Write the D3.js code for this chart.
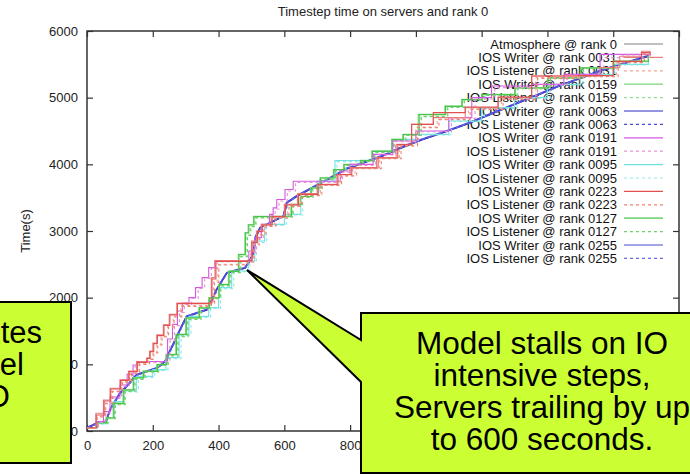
<!DOCTYPE html>
<html><head><meta charset="utf-8">
<script src="https://cdn.jsdelivr.net/npm/d3@7"></script>
<style>
body{margin:0;background:#fff}
svg{display:block}
text{font-family:"Liberation Sans",Arial,Helvetica,sans-serif}
</style>
</head><body>
<svg id="c" width="690" height="475"></svg>
<script>
// ---------- data ----------
const chartTitle = "Timestep time on servers and rank 0";
const yTitle = "Time(s)";
const xTicks = [0,200,400,600,800,1000,1200,1400,1600,1800];
const xTickLabels = ["0","200","400","600","800","","","","",""]; // labels beyond 800 sit under the callout
const yTicks = [0,1000,2000,3000,4000,5000,6000];

const seriesNames = [
  "Atmosphere @ rank 0",
  "IOS Writer @ rank 0031","IOS Listener @ rank 0031",
  "IOS Writer @ rank 0159","IOS Listener @ rank 0159",
  "IOS Writer @ rank 0063","IOS Listener @ rank 0063",
  "IOS Writer @ rank 0191","IOS Listener @ rank 0191",
  "IOS Writer @ rank 0095","IOS Listener @ rank 0095",
  "IOS Writer @ rank 0223","IOS Listener @ rank 0223",
  "IOS Writer @ rank 0127","IOS Listener @ rank 0127",
  "IOS Writer @ rank 0255","IOS Listener @ rank 0255"
];

// [timestep, seconds]
const atm0 = [[0,45],[29,110],[58,135],[70,310],[100,560],[130,715],[151,838],[212,938],[237,1038],[273,1412],[303,1712],[364,1812],[394,2112],[425,2365],[480,2440],[506,2665],[511,2890],[526,3040],[597,3215],[607,3415],[638,3515],[700,3685],[759,3842],[784,3918],[900,4125],[1018,4365],[1159,4608],[1300,4895],[1433,5165],[1560,5395],[1707,5620]];

const w0031 = [[0,50],[27,266],[50,466],[70,642],[100,767],[126,900],[151,1042],[181,1093],[190,1200],[200,1320],[212,1443],[232,1593],[250,1750],[273,1919],[368,1919],[378,2300],[389,2555],[486,2555],[500,2850],[515,3000],[530,3100],[560,3221],[600,3400],[640,3560],[700,3700],[760,3848],[800,3950],[880,4100],[940,4300],[987,4600],[1053,4700],[1150,4850],[1250,5000],[1352,5325],[1494,5325],[1560,5450],[1620,5622],[1686,5697],[1712,5622]];
const l0031 = [[0,50],[30,220],[55,420],[75,600],[105,740],[132,870],[158,1010],[188,1080],[200,1180],[212,1300],[225,1420],[245,1570],[262,1720],[285,1880],[375,1919],[385,2250],[398,2500],[486,2540],[505,2800],[520,2950],[540,3080],[570,3200],[610,3380],[650,3540],[710,3690],[770,3830],[815,3940],[890,4090],[950,4280],[1000,4560],[1065,4680],[1160,4830],[1260,4980],[1365,5300],[1500,5320],[1610,5530],[1690,5660],[1712,5640]];

const w0159 = [[0,50],[30,130],[58,200],[80,420],[110,620],[140,800],[170,900],[212,1000],[240,1150],[270,1450],[300,1700],[340,1850],[370,2000],[400,2200],[430,2400],[460,2650],[480,2976],[490,3096],[506,3221],[597,3221],[620,3400],[648,3522],[680,3650],[708,3798],[749,3923],[780,4000],[830,4060],[866,4198],[926,4374],[960,4450],[1007,4750],[1088,4875],[1139,4975],[1200,5050],[1300,5150],[1400,5300],[1500,5450],[1600,5550],[1707,5626]];
const l0159 = [[0,48],[33,120],[62,190],[84,400],[114,600],[144,780],[175,890],[216,990],[245,1130],[275,1420],[305,1680],[345,1840],[375,1990],[405,2180],[435,2380],[466,2620],[486,2940],[496,3070],[512,3200],[600,3215],[625,3380],[652,3510],[685,3640],[713,3780],[754,3910],[786,3990],[838,4050],[872,4185],[932,4360],[968,4440],[1015,4720],[1095,4860],[1146,4965],[1208,5040],[1308,5140],[1408,5290],[1508,5440],[1608,5545],[1707,5620]];

const w0063 = [[0,50],[15,80],[29,115],[45,125],[58,140],[64,230],[70,315],[80,400],[90,480],[100,567],[115,640],[130,720],[140,790],[151,842],[180,890],[212,942],[225,990],[237,1042],[250,1180],[262,1300],[273,1418],[285,1540],[295,1640],[303,1718],[335,1770],[364,1818],[380,1970],[394,2119],[410,2250],[425,2370],[450,2405],[480,2445],[495,2550],[506,2671],[511,2896],[526,3047],[560,3130],[597,3221],[607,3422],[638,3522],[700,3690],[759,3848],[784,3923],[850,4040],[900,4130],[960,4260],[1018,4370],[1090,4490],[1159,4614],[1230,4760],[1300,4900],[1370,5040],[1433,5170],[1500,5290],[1560,5400],[1630,5510],[1707,5626]];
const l0063 = [[0,48],[30,105],[58,135],[68,290],[78,390],[92,490],[103,570],[118,650],[132,725],[143,795],[153,840],[182,888],[214,940],[228,995],[240,1045],[252,1185],[264,1305],[275,1420],[287,1545],[297,1645],[305,1720],[337,1772],[366,1820],[382,1975],[396,2120],[412,2255],[427,2372],[452,2408],[482,2448],[497,2555],[508,2675],[513,2895],[528,3050],[562,3135],[599,3225],[609,3425],[640,3525],[702,3692],[761,3850],[786,3925],[852,4042],[902,4132],[962,4262],[1020,4372],[1092,4492],[1161,4616],[1232,4762],[1302,4902],[1372,5042],[1435,5172],[1502,5292],[1562,5402],[1632,5512],[1707,5626]];

const w0191 = [[0,50],[30,140],[50,290],[70,510],[100,690],[122,850],[140,990],[151,1042],[232,1042],[245,1380],[260,1600],[275,1800],[290,1919],[310,2000],[330,2150],[350,2300],[370,2450],[389,2555],[486,2555],[492,2700],[510,2900],[530,3100],[555,3250],[566,3347],[577,3472],[602,3622],[627,3747],[760,3747],[770,3900],[800,4000],[870,4150],[930,4350],[1000,4500],[1100,4700],[1170,5000],[1230,5175],[1352,5200],[1450,5350],[1560,5650],[1620,5650],[1707,5626]];
const l0191 = [[0,48],[34,130],[55,270],[75,490],[105,670],[128,830],[146,970],[158,1030],[238,1040],[252,1350],[266,1580],[281,1780],[296,1900],[318,1990],[338,2140],[358,2290],[378,2440],[396,2540],[488,2550],[498,2680],[516,2880],[536,3080],[561,3230],[572,3330],[584,3450],[609,3600],[634,3730],[765,3740],[777,3880],[808,3985],[878,4140],[938,4340],[1008,4490],[1108,4690],[1180,4980],[1240,5150],[1360,5190],[1460,5340],[1570,5600],[1630,5640],[1707,5620]];

const w0095 = [[0,50],[29,110],[60,200],[80,440],[110,600],[150,820],[200,920],[240,1100],[280,1450],[310,1720],[370,1850],[400,2150],[440,2400],[490,2550],[510,2850],[540,3100],[600,3250],[650,3550],[700,3750],[754,4058],[855,4058],[866,4198],[926,4374],[1000,4450],[1100,4650],[1200,4850],[1300,5000],[1400,5200],[1500,5350],[1600,5500],[1707,5626]];
const l0095 = [[0,48],[32,105],[64,190],[85,420],[115,585],[156,805],[206,910],[246,1085],[286,1430],[316,1705],[376,1840],[406,2135],[446,2390],[495,2545],[515,2830],[546,3085],[606,3240],[656,3535],[706,3740],[760,4040],[860,4050],[872,4185],[932,4360],[1008,4440],[1108,4640],[1208,4840],[1308,4990],[1408,5190],[1508,5340],[1608,5490],[1707,5620]];

const w0223 = [[0,50],[28,240],[52,450],[72,630],[102,760],[128,890],[153,1030],[183,1090],[192,1190],[203,1310],[214,1430],[234,1585],[252,1740],[275,1910],[370,1919],[380,2280],[392,2545],[488,2555],[502,2830],[518,2990],[533,3090],[563,3215],[603,3390],[643,3550],[703,3695],[763,3845],[805,3945],[885,4095],[945,4295],[987,4600],[1048,4600],[1053,4775],[1150,4860],[1250,5010],[1352,5325],[1494,5330],[1600,5545],[1686,5676],[1712,5640]];
const l0223 = [[0,48],[31,210],[57,410],[77,590],[108,730],[135,860],[160,1000],[190,1075],[203,1170],[215,1290],[228,1410],[248,1560],[265,1710],[288,1870],[378,1915],[388,2230],[401,2490],[490,2535],[508,2790],[524,2940],[544,3070],[574,3195],[614,3370],[654,3530],[714,3685],[774,3825],[820,3935],[895,4085],[955,4275],[1005,4550],[1070,4670],[1165,4825],[1265,4975],[1370,5290],[1505,5315],[1615,5525],[1695,5650],[1712,5630]];

const w0127 = [[0,50],[31,125],[59,195],[82,410],[112,615],[142,795],[172,895],[214,995],[242,1145],[272,1445],[302,1695],[342,1845],[372,1995],[402,2195],[432,2395],[462,2645],[482,2970],[492,3090],[508,3215],[599,3221],[622,3395],[650,3518],[682,3645],[710,3795],[751,3920],[782,3995],[832,4055],[868,4195],[928,4370],[962,4445],[1010,4745],[1090,4870],[1141,4970],[1202,5045],[1302,5145],[1402,5295],[1502,5445],[1602,5545],[1707,5626]];
const l0127 = [[0,48],[35,118],[64,185],[86,395],[116,595],[146,775],[177,885],[218,985],[247,1125],[277,1415],[307,1675],[347,1835],[377,1985],[407,2175],[437,2375],[468,2615],[488,2935],[498,3065],[514,3195],[602,3212],[627,3375],[654,3505],[687,3635],[715,3775],[756,3905],[788,3985],[840,4045],[874,4180],[934,4355],[970,4435],[1017,4715],[1097,4855],[1148,4960],[1210,5035],[1310,5135],[1410,5285],[1510,5435],[1610,5540],[1707,5620]];

const w0255 = [[0,52],[15,85],[29,118],[45,128],[58,145],[64,240],[70,325],[80,410],[90,490],[100,575],[115,648],[130,728],[140,796],[151,848],[180,895],[212,948],[225,996],[237,1048],[250,1186],[262,1306],[273,1424],[285,1546],[295,1646],[303,1724],[335,1776],[364,1824],[380,1976],[394,2125],[410,2256],[425,2376],[450,2410],[480,2450],[495,2556],[506,2677],[511,2900],[526,3052],[560,3136],[597,3226],[607,3428],[638,3528],[700,3696],[759,3854],[784,3929],[850,4046],[900,4136],[960,4266],[1018,4376],[1090,4496],[1159,4620],[1230,4766],[1300,4906],[1370,5046],[1433,5176],[1500,5296],[1560,5406],[1630,5516],[1707,5632]];
const l0255 = [[0,49],[31,108],[59,138],[69,295],[79,395],[93,495],[104,572],[119,652],[133,728],[144,798],[154,843],[183,890],[215,943],[229,997],[241,1047],[253,1188],[265,1308],[276,1422],[288,1548],[298,1648],[306,1722],[338,1775],[367,1822],[383,1978],[397,2122],[413,2258],[428,2374],[453,2410],[483,2450],[498,2558],[509,2678],[514,2898],[529,3052],[563,3138],[600,3228],[610,3428],[641,3528],[703,3695],[762,3852],[787,3928],[853,4045],[903,4135],[963,4265],[1021,4375],[1093,4495],[1162,4618],[1233,4765],[1303,4905],[1373,5045],[1436,5175],[1503,5295],[1563,5405],[1633,5515],[1707,5628]];

const seriesData = [atm0,w0031,l0031,w0159,l0159,w0063,l0063,w0191,l0191,w0095,l0095,w0223,l0223,w0127,l0127,w0255,l0255];

// ---------- styles ----------
const colors = ["#808080","#e88080","#f0a898","#78d878","#90e090","#2a2ac4","#4848d0","#d458e2","#e892d4","#70e2e2","#90e8e8","#e25050","#ec8474","#48c448","#70d070","#4a4ad8","#6a6ae0"];
const dashed = [false,false,true,false,true,false,true,false,true,false,true,false,true,false,true,false,true];
const stepped = [false,true,true,true,true,false,false,true,true,true,true,true,true,true,true,false,false];

const W = 690, H = 475;
const L = 87, R = 679, T = 31, B = 431;
const svg = d3.select("#c");
svg.append("rect").attr("width",W).attr("height",H).attr("fill","#fff");

const x = d3.scaleLinear().domain([0,1800]).range([L,R]);
const y = d3.scaleLinear().domain([0,6000]).range([B,T]);

// title
svg.append("text").attr("x",383).attr("y",16).attr("text-anchor","middle")
  .attr("font-size",13).attr("fill","#222").text(chartTitle);
// y title
svg.append("text").attr("transform","translate(30,231) rotate(-90)")
  .attr("text-anchor","middle").attr("font-size",13).attr("fill","#222").text(yTitle);

// axes
const tickCol = "#333";
function styleAxis(g){
  g.select(".domain").remove();
  g.selectAll("line").attr("stroke",tickCol).attr("stroke-width",1.2);
  g.selectAll("text").attr("font-size",13).attr("fill","#222")
    .attr("font-family",'"Liberation Sans",Arial,sans-serif');
  g.selectAll("text").filter(function(){ return this.textContent === ""; }).remove();
}
svg.append("g").attr("transform",`translate(0,${B})`)
  .call(d3.axisBottom(x).tickValues(xTicks).tickSize(-6).tickPadding(10)
    .tickFormat((d,i)=>xTickLabels[i])).call(styleAxis);
svg.append("g").attr("transform",`translate(0,${T})`)
  .call(d3.axisTop(x).tickValues(xTicks).tickSize(-6).tickFormat("")).call(styleAxis);
svg.append("g").attr("transform",`translate(${L},0)`)
  .call(d3.axisLeft(y).tickValues(yTicks).tickSize(-6).tickPadding(9).tickFormat(d3.format("d"))).call(styleAxis);
svg.append("g").attr("transform",`translate(${R},0)`)
  .call(d3.axisRight(y).tickValues(yTicks).tickSize(-6).tickFormat("")).call(styleAxis);

// frame
svg.append("rect").attr("x",L).attr("y",T).attr("width",R-L).attr("height",B-T)
  .attr("fill","none").attr("stroke",tickCol).attr("stroke-width",1.5);

// legend (drawn under the lines)
const leg = svg.append("g");
seriesNames.forEach((n,i)=>{
  const yy = 44 + i*13.4;
  leg.append("text").attr("x",617).attr("y",yy).attr("dy","0.36em")
    .attr("text-anchor","end").attr("font-size",13).attr("fill","#111").text(n);
  leg.append("line").attr("x1",624).attr("x2",663).attr("y1",yy).attr("y2",yy)
    .attr("stroke",colors[i]).attr("stroke-width",1.2)
    .attr("stroke-dasharray",dashed[i]?"3,3":null);
});

// series
svg.append("clipPath").attr("id","pc").append("rect")
  .attr("x",L).attr("y",T).attr("width",R-L).attr("height",B-T);
const plot = svg.append("g").attr("clip-path","url(#pc)");
const order = [0,5,6,15,16,9,10,3,4,13,14,7,8,1,2,11,12];
order.forEach(i=>{
  const gen = d3.line().x(d=>x(d[0])).y(d=>y(d[1]))
    .curve(stepped[i]?d3.curveStepAfter:d3.curveLinear);
  plot.append("path").datum(seriesData[i]).attr("d",gen)
    .attr("fill","none").attr("stroke",colors[i])
    .attr("stroke-width",(i===5||i===15)?1.6:1.1)
    .attr("stroke-dasharray",dashed[i]?"3,3":null);
});

// callouts
const fillC = "#ccff33";
const callouts = svg.append("g");
callouts.append("path")
  .attr("d","M-10,302 H71 V463 H-10 Z")
  .attr("fill",fillC).attr("stroke","#000").attr("stroke-width",2);
const leftLines = [["Server writes",42,343],["in parallel",24,375],["to model IO",10,407]];
leftLines.forEach(([t,xx,yy])=>{
  callouts.append("text").attr("x",xx).attr("y",yy).attr("text-anchor","end")
    .attr("font-size",31).attr("fill","#000").text(t);
});
callouts.append("path")
  .attr("d","M361,313 H725 V473 H361 V382 L247,270 L361,340 Z")
  .attr("fill",fillC).attr("stroke","#000").attr("stroke-width",2).attr("stroke-linejoin","miter");
const rightLines = ["Model stalls on IO","intensive steps,","Servers trailing by up","to 600 seconds."];
rightLines.forEach((t,i)=>{
  callouts.append("text").attr("x",542).attr("y",354+i*32).attr("text-anchor","middle")
    .attr("font-size",31.5).attr("fill","#000").text(t);
});
</script>
</body></html>
